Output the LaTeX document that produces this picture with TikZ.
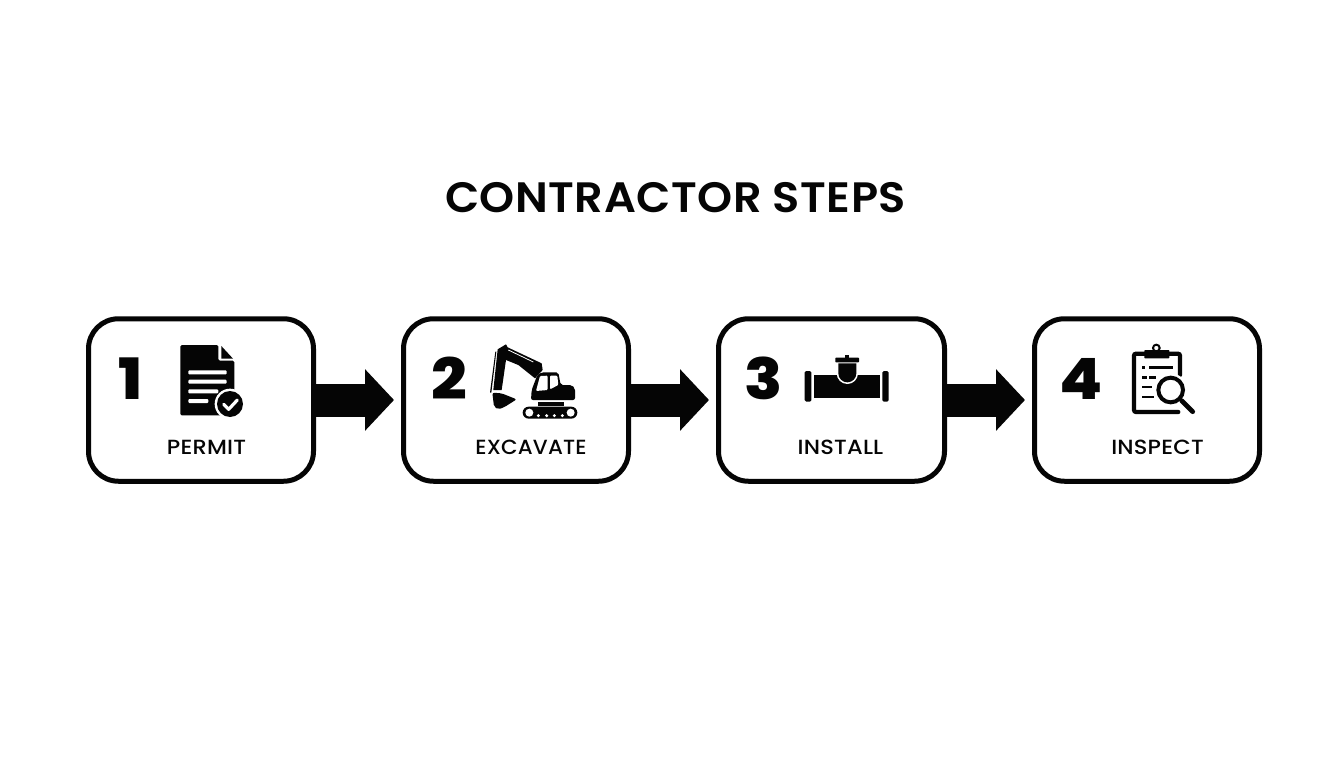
\documentclass[tikz,border=0pt]{standalone}
\usepackage{fontspec}
\setmainfont{Poppins}
\newfontfamily\titlef[FakeStretch=1.05,LetterSpace=1.2]{Poppins SemiBold}
\newfontfamily\labf[FakeStretch=1.1,LetterSpace=1]{Poppins Medium}
\newfontfamily\numf[FakeStretch=1.1]{Poppins ExtraBold}
\usetikzlibrary{arrows.meta}
\definecolor{ink}{HTML}{050505}
\tikzset{
  stepbox/.style={draw=ink,line width=5pt,rounded corners=30pt,fill=white,minimum width=225pt,minimum height=162.5pt,inner sep=0pt},
  flow/.style={draw=ink,line width=33pt,shorten >=7pt,-{Triangle[width=60pt,length=29pt]}},
  numtxt/.style={text=ink,anchor=base,inner sep=0pt,font=\fontsize{57}{57}\selectfont\numf},
  labtxt/.style={text=ink,anchor=base,inner sep=0pt,font=\fontsize{20.5}{20.5}\selectfont\labf},
  titletxt/.style={text=ink,anchor=base,inner sep=0pt,font=\fontsize{42.5}{43}\selectfont\titlef},
  icon/.style={fill=ink,draw=none},
  hole/.style={fill=white,draw=none}
}
\begin{document}
\begin{tikzpicture}[x=1pt,y=-1pt]
\useasboundingbox[fill=white] (0,0) rectangle (1344,768);
\node[titletxt] (title) at (675.5,212) {CONTRACTOR STEPS};
\node[stepbox] (b1) at (201,400) {};
\node[stepbox] (b2) at (516,400) {};
\node[stepbox,minimum width=226pt] (b3) at (831.5,400) {};
\node[stepbox] (b4) at (1147,400) {};
\draw[flow] (b1.east) -- (b2.west);
\draw[flow] (b2.east) -- (b3.west);
\draw[flow] (b3.east) -- (b4.west);
\node[numtxt] (n1) at (130.5,399.5) {1};
\node[numtxt] (n2) at (449,399.5) {2};
\node[numtxt] (n3) at (763.5,399.5) {3};
\node[numtxt] (n4) at (1081,399.5) {4};
\node[labtxt] (l1) at (206.5,454.5) {PERMIT};
\node[labtxt] (l2) at (531,454.5) {\scalebox{.95}[1]{EXCAVATE}};
\node[labtxt] (l3) at (840.5,454.5) {INSTALL};
\node[labtxt] (l4) at (1157.5,454.5) {INSPECT};
% document icon
\begin{scope}[shift={(80,310)},scale=1/3]
\fill[icon,rounded corners=1.5pt] (301,105) -- (415,105) -- (415,152) -- (463,152) -- (463,316) -- (301,316) -- cycle;
\fill[icon] (424,108) -- (459,146) -- (424,146) -- cycle;
\fill[hole,rounded corners=1pt] (325,181) rectangle (440,193);
\fill[hole,rounded corners=1pt] (325,209) rectangle (440,221);
\fill[hole,rounded corners=1pt] (325,238) rectangle (415,250);
\fill[hole,rounded corners=1pt] (325,267) rectangle (385,279);
\fill[hole] (450,282) circle (46);
\fill[icon] (450,282) circle (39);
\draw[white,line width=3.2pt,line cap=round,line join=round] (431,283) -- (446,298) -- (472,270);
\end{scope}
% excavator icon
\begin{scope}[shift={(400,310)},scale=1/3]
\fill[icon] (293,118) -- (318,103) -- (323,112) -- (425,160) -- (428,180) -- (405,205) -- (355,165) -- (318,150) -- (305,240) -- (280,240) -- cycle;
\draw[white,line width=0.8pt] (325,120) -- (400,156);
\fill[icon] (286,125) -- (289,125) -- (274,248) -- (270,248) -- cycle;
\fill[icon,rounded corners=2pt] (277,248) -- (305,250) -- (350,268) -- (312,292) -- (295,298) -- (282,290) -- cycle;
\fill[icon,rounded corners=2pt] (393,270) -- (395,240) -- (412,195) -- (425,187) -- (475,187) -- (482,225) -- (515,225) -- (525,235) -- (525,270) -- cycle;
\fill[hole,rounded corners=1pt] (408,243) -- (420,198) -- (443,197) -- (443,240) -- cycle;
\fill[hole,rounded corners=1pt] (450,197) -- (472,197) -- (475,225) -- (450,238) -- cycle;
\fill[icon] (413,277) rectangle (492,287);
\fill[icon,rounded corners=6pt] (368,290) rectangle (532,326);
\fill[hole] (388,308) circle (12);
\fill[hole] (512,308) circle (12);
\fill[hole] (415,317) circle (5);
\fill[hole] (440,317) circle (5);
\fill[hole] (463,317) circle (5);
\fill[hole] (487,317) circle (5);
\end{scope}
% pipe icon
\begin{scope}[shift={(715,310)},scale=1/3]
\fill[icon,rounded corners=1.5pt] (269,183) rectangle (289,275);
\fill[icon,rounded corners=1.5pt] (502,183) rectangle (521,275);
\fill[icon] (296,195) rectangle (496,263);
\fill[hole] (365,190) -- (429,190) arc[start angle=0,end angle=180,radius=32] -- cycle;
\fill[icon] (370,160) -- (424,160) -- (424,190) arc[start angle=0,end angle=180,radius=27] -- cycle;
\fill[icon,rounded corners=0.7pt] (361,143) rectangle (432,157);
\fill[icon] (390,135) rectangle (402,145);
\end{scope}
% clipboard icon
\begin{scope}[shift={(1030,310)},scale=1/3]
\draw[ink,line width=4.2pt,rounded corners=2pt,line cap=round] (450,195) -- (450,131) -- (312,131) -- (312,306) -- (445,306);
\fill[icon,rounded corners=0.7pt] (343,120) rectangle (418,145);
\draw[ink,line width=2pt] (379,114) circle (10);
\fill[icon] (335,169) rectangle (345,178);
\fill[icon] (358,169) rectangle (428,178);
\fill[icon] (335,198) rectangle (350,206);
\fill[icon] (358,198) rectangle (378,206);
\fill[icon] (335,227) rectangle (367,235);
\fill[icon] (335,257) rectangle (372,265);
\fill[hole] (422,240) circle (50);
\draw[ink,line width=4pt] (422,240) circle (37);
\draw[ink,line width=4.8pt,line cap=round] (455,272) -- (488,305);
\end{scope}
\end{tikzpicture}
\end{document}
